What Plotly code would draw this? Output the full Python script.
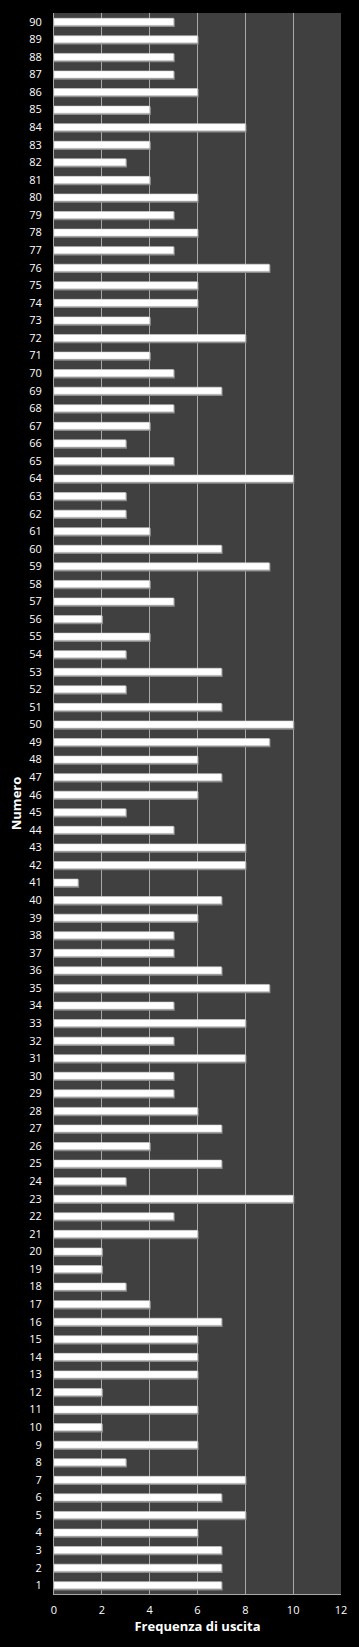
import plotly.graph_objects as go

numeri = list(range(1, 91))
frequenze = [
    7, 7, 7, 6, 8, 7, 8, 3, 6, 2,      # 1-10
    6, 2, 6, 6, 6, 7, 4, 3, 2, 2,      # 11-20
    6, 5, 10, 3, 7, 4, 7, 6, 5, 5,     # 21-30
    8, 5, 8, 5, 9, 7, 5, 5, 6, 7,      # 31-40
    1, 8, 8, 5, 3, 6, 7, 6, 9, 10,     # 41-50
    7, 3, 7, 3, 4, 2, 5, 4, 9, 7,      # 51-60
    4, 3, 3, 10, 5, 3, 4, 5, 7, 5,     # 61-70
    4, 8, 4, 6, 6, 9, 5, 6, 5, 6,      # 71-80
    4, 3, 4, 8, 4, 6, 5, 5, 6, 5,      # 81-90
]
x_ticks = [0, 2, 4, 6, 8, 10, 12]

fig = go.Figure()
# shadow
fig.add_trace(go.Bar(
    x=[v + 0.05 for v in frequenze], y=numeri, orientation="h",
    width=0.47, offset=-0.3,
    marker=dict(color="#8c8c8c", line=dict(width=0)),
    hoverinfo="skip", showlegend=False,
))
# main bars
fig.add_trace(go.Bar(
    x=frequenze, y=numeri, orientation="h",
    width=0.4, offset=-0.2,
    marker=dict(color="#ffffff", line=dict(color="#d0d0d0", width=0.6)),
    showlegend=False,
))

fig.update_layout(
    width=359, height=1647,
    margin=dict(l=54, r=13, t=13, b=53),
    paper_bgcolor="#000000",
    plot_bgcolor="#404040",
    barmode="overlay",
    font=dict(family="Open Sans, Liberation Sans, sans-serif", color="#ffffff", size=11),
    xaxis=dict(
        range=[0, 12], tickvals=x_ticks, ticktext=[str(t) for t in x_ticks],
        showgrid=True, gridcolor="#a8a8a8", gridwidth=1,
        zeroline=False, showline=True, linecolor="#a8a8a8", linewidth=1,
        ticks="", ticklabelstandoff=6,
        tickfont=dict(size=11, color="#ffffff"),
        title=dict(text="<b>Frequenza di uscita</b>", font=dict(size=13, color="#ffffff"), standoff=5),
        fixedrange=True,
    ),
    yaxis=dict(
        range=[0.5, 90.5], tickvals=numeri, ticktext=[str(n) for n in numeri],
        showgrid=False, zeroline=False, showline=True, linecolor="#a8a8a8", linewidth=1,
        ticks="", ticklabelstandoff=9,
        tickfont=dict(size=11, color="#ffffff"),
        title=dict(text="<b>Numero</b>", font=dict(size=13, color="#ffffff"), standoff=4),
        fixedrange=True,
    ),
)

fig.write_html("out.html")
